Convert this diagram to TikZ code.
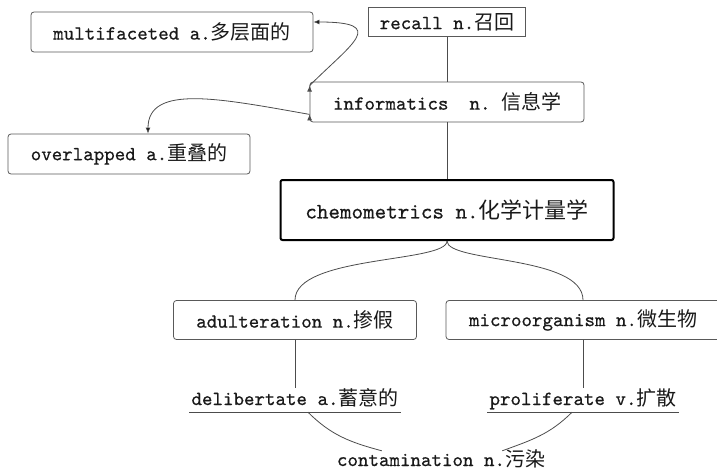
\documentclass[tikz,border=0pt]{standalone}
\usepackage{fontspec}
\setmonofont{lmmono10-regular.otf}[FakeBold=0.6]
\newfontfamily\cjk{Noto Sans CJK SC}
\newcommand{\zh}[1]{{\cjk #1}}
\usetikzlibrary{arrows.meta}
\usetikzlibrary{positioning}

\begin{document}
\begin{tikzpicture}[x=1pt, y=1pt, >={Latex[length=6pt,width=5pt]}, on grid,
       every node/.style={text=black!90, font=\ttfamily\fontsize{20}{24}\selectfont},
       word/.style={draw=black!65, line width=0.8pt, rounded corners=3pt, minimum height=40pt},
       keyword/.style={draw=black, line width=2pt, rounded corners=2pt, minimum width=333pt,
         minimum height=60pt, font=\ttfamily\fontsize{22}{26}\selectfont},
       plain/.style={inner sep=2pt, text height=15pt, text depth=5pt},
       link/.style={draw=black!70, line width=0.8pt}]

       \useasboundingbox (0,0) rectangle (717,-471);

       \node[keyword] (chem) at (447,-210) {chemometrics n.\zh{化学计量学}};
       \node[word, minimum width=274pt, above=108pt of chem] (info) {informatics\ \ n.\ \zh{信息学}};
       \path[link] (info) edge (chem);
       \node[word, minimum width=157pt, minimum height=29pt, rounded corners=0pt,
       above=80pt of info] (recall) {recall n.\zh{召回}};
       \path[link] (recall) edge (info);
       \node[word, minimum width=282pt, above left=70pt and 275pt of info] (multi) {multifaceted a.\zh{多层面的}};
       \path[link, ->] ([yshift=-4pt]info.north west) edge[out=45, in=0, out distance=60pt,
       in distance=75pt] ([yshift=10pt]multi.east);
       \node[word, minimum width=242pt, below left=52pt and 318pt of info] (over) {overlapped a.\zh{重叠的}};
       \path[link, ->] ([yshift=8pt]info.south west) edge[out=170, in=90, out distance=90pt,
       in distance=50pt] ([xshift=19pt]over.north);

       \node[word, minimum width=243pt, minimum height=39pt,
       below left=110pt and 152pt of chem] (adult) {adulteration n.\zh{掺假}};
       \path[link] (chem.south) edge[out=-90, in=90, out distance=22pt, in distance=45pt] (adult.north);
       \node[word, minimum width=274pt, minimum height=39pt,
       below right=110pt and 136pt of chem] (micro) {microorganism n.\zh{微生物}};
       \path[link] (chem.south) edge[out=-90, in=90, out distance=22pt, in distance=45pt] (micro.north);

       \node[plain, below=80pt of adult] (delib) {delibertate a.\zh{蓄意的}};
       \path[link] (adult) edge (delib);
       \draw[link] (delib.south west) -- (delib.south east);
       \node[plain, below=80pt of micro] (prolif) {proliferate v.\zh{扩散}};
       \path[link] (micro) edge (prolif);
       \draw[link] (prolif.south west) -- (prolif.south east);

       \node[plain, text depth=3pt, below right=60pt and 146pt of delib] (contam) {contamination n.\zh{污染}};
       \path[link] ([xshift=13pt]delib.south) edge[out=-45, in=165]
       ([xshift=47pt, yshift=-2pt]contam.north west);
       \path[link] ([xshift=-11pt]prolif.south) edge[out=-135, in=20]
       ([xshift=-45pt, yshift=-2pt]contam.north east);

\end{tikzpicture}
\end{document}
